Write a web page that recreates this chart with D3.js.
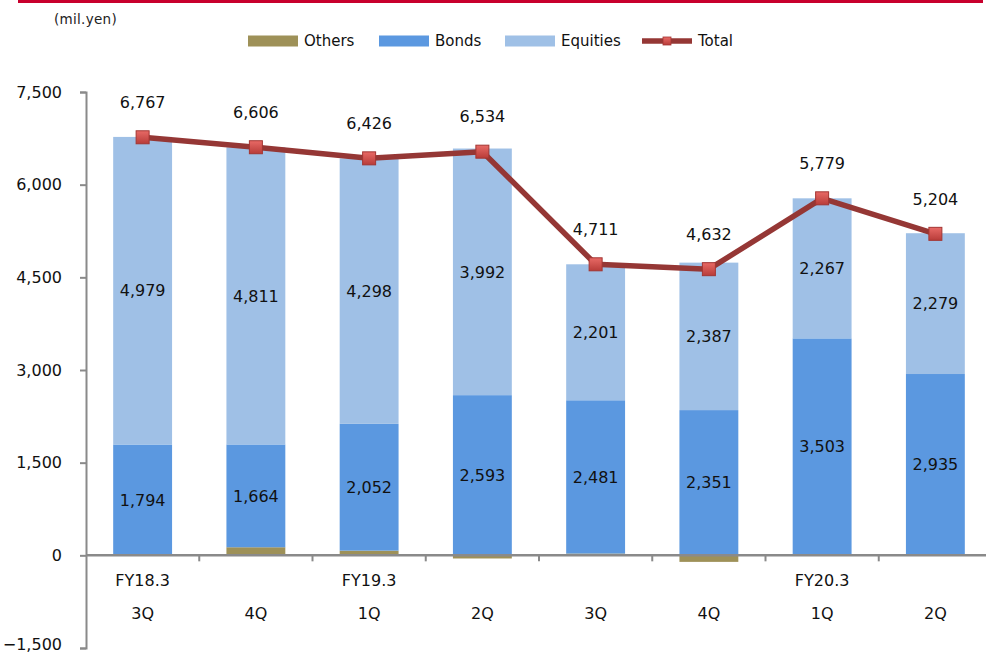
<!DOCTYPE html>
<html>
<head>
<meta charset="utf-8">
<script src="https://cdn.jsdelivr.net/npm/d3@7"></script>
<style>
  body { margin: 0; background: #fff; }
  svg { display: block; font-family: "DejaVu Sans", Verdana, sans-serif; }
</style>
</head>
<body>
<svg id="chart" width="986" height="654"></svg>
<script>
// data
const quarters = ["3Q", "4Q", "1Q", "2Q", "3Q", "4Q", "1Q", "2Q"];
const fyLabels = ["FY18.3", "", "FY19.3", "", "", "", "FY20.3", ""];
const bonds = [1794, 1664, 2052, 2593, 2481, 2351, 3503, 2935];
const equities = [4979, 4811, 4298, 3992, 2201, 2387, 2267, 2279];
const totals = [6767, 6606, 6426, 6534, 4711, 4632, 5779, 5204];
const others = totals.map((t, i) => t - bonds[i] - equities[i]);
const yTicks = [-1500, 0, 1500, 3000, 4500, 6000, 7500];
const seriesNames = ["Others", "Bonds", "Equities", "Total"];

const colors = {
  Others: "#9e9158",
  Bonds: "#5b98e0",
  Equities: "#9fc0e6",
  Total: "#953735",
};

const svg = d3.select("#chart"),
  plotLeft = 86,
  plotRight = 992, // plot area runs a bit past the picture's right edge
  plotTop = 92,
  plotBottom = 648;

const rows = quarters.map((q, i) => ({
  idx: i,
  Others: others[i],
  Bonds: bonds[i],
  Equities: equities[i],
}));

const x = d3
  .scaleBand()
  .domain(rows.map((d) => d.idx))
  .range([plotLeft, plotRight])
  .paddingInner(0.48)
  .paddingOuter(0.24);

const y = d3.scaleLinear().domain([-1500, 7500]).range([plotBottom, plotTop]);

// gradient for the total markers
const defs = svg.append("defs");
const grad = defs
  .append("linearGradient")
  .attr("id", "mk")
  .attr("x1", 0)
  .attr("y1", 0)
  .attr("x2", 0)
  .attr("y2", 1);
grad.append("stop").attr("offset", "0%").attr("stop-color", "#e86a66");
grad.append("stop").attr("offset", "100%").attr("stop-color", "#b83c39");

// red rule at the top
svg
  .append("line")
  .attr("x1", 18)
  .attr("x2", 983)
  .attr("y1", 1.5)
  .attr("y2", 1.5)
  .attr("stroke", "#c8002d")
  .attr("stroke-width", 3);

svg
  .append("text")
  .attr("x", 54)
  .attr("y", 24)
  .attr("font-size", 13.5)
  .attr("fill", "#222")
  .attr("letter-spacing", 0.3)
  .text("(mil.yen)");

// stacked bars
const stack = d3
  .stack()
  .keys(["Others", "Bonds", "Equities"])
  .offset(d3.stackOffsetDiverging);
const layers = stack(rows);

svg
  .append("g")
  .selectAll("g")
  .data(layers)
  .enter()
  .append("g")
  .attr("fill", (d) => colors[d.key])
  .selectAll("rect")
  .data((d) => d)
  .enter()
  .append("rect")
  .attr("x", (d) => x(d.data.idx))
  .attr("width", x.bandwidth())
  .attr("y", (d) => y(Math.max(d[0], d[1])))
  .attr("height", (d) => Math.abs(y(d[0]) - y(d[1])));

// segment labels for bonds and equities
layers
  .filter((l) => l.key != "Others")
  .forEach((l) => {
    svg
      .append("g")
      .selectAll("text")
      .data(l)
      .enter()
      .append("text")
      .attr("x", (d) => x(d.data.idx) + x.bandwidth() / 2)
      .attr("y", (d) => y((d[0] + d[1]) / 2))
      .attr("dy", "0.36em")
      .attr("text-anchor", "middle")
      .attr("font-size", 16)
      .attr("fill", "#111")
      .text((d) => d3.format(",")(d.data[l.key]));
  });

// axes
const axisColor = "#8a8a8a";
const yAxis = svg
  .append("g")
  .attr("transform", `translate(${plotLeft},0)`)
  .call(
    d3
      .axisLeft(y)
      .tickValues(yTicks)
      .tickSize(6)
      .tickPadding(18)
      .tickFormat(d3.format(","))
  );
yAxis.select(".domain").attr("stroke", axisColor).attr("stroke-width", 2);
yAxis.selectAll(".tick line").attr("stroke", axisColor).attr("stroke-width", 2);
yAxis
  .selectAll(".tick text")
  .attr("font-size", 16)
  .attr("fill", "#111")
  .attr("font-family", "DejaVu Sans, sans-serif");
// keep the bottom label inside the picture
yAxis
  .selectAll(".tick text")
  .filter((d) => d == -1500)
  .attr("dy", "0.1em");

const step = x.step();
const xAxis = svg.append("g");
xAxis
  .append("line")
  .attr("x1", plotLeft)
  .attr("x2", plotRight)
  .attr("y1", y(0))
  .attr("y2", y(0))
  .attr("stroke", axisColor)
  .attr("stroke-width", 2.5);
xAxis
  .selectAll("line.tk")
  .data(d3.range(1, quarters.length))
  .enter()
  .append("line")
  .attr("class", "tk")
  .attr("x1", (i) => plotLeft + i * step)
  .attr("x2", (i) => plotLeft + i * step)
  .attr("y1", y(0))
  .attr("y2", y(0) + 6)
  .attr("stroke", axisColor)
  .attr("stroke-width", 2);
xAxis
  .selectAll("text.fy")
  .data(rows)
  .enter()
  .append("text")
  .attr("class", "fy")
  .attr("x", (d) => x(d.idx) + x.bandwidth() / 2)
  .attr("y", 586)
  .attr("text-anchor", "middle")
  .attr("font-size", 16)
  .attr("fill", "#111")
  .text((d) => fyLabels[d.idx]);
xAxis
  .selectAll("text.q")
  .data(rows)
  .enter()
  .append("text")
  .attr("class", "q")
  .attr("x", (d) => x(d.idx) + x.bandwidth() / 2)
  .attr("y", 619)
  .attr("text-anchor", "middle")
  .attr("font-size", 16)
  .attr("fill", "#111")
  .text((d) => quarters[d.idx]);

// total line
const line = d3
  .line()
  .x((d, i) => x(i) + x.bandwidth() / 2)
  .y((d) => y(d));
svg
  .append("path")
  .datum(totals)
  .attr("d", line)
  .attr("fill", "none")
  .attr("stroke", colors.Total)
  .attr("stroke-width", 5.5)
  .attr("stroke-linejoin", "round");

const mk = 13;
svg
  .append("g")
  .selectAll("rect")
  .data(totals)
  .enter()
  .append("rect")
  .attr("x", (d, i) => x(i) + x.bandwidth() / 2 - mk / 2)
  .attr("y", (d) => y(d) - mk / 2)
  .attr("width", mk)
  .attr("height", mk)
  .attr("fill", "url(#mk)")
  .attr("stroke", "#a33532")
  .attr("stroke-width", 1);

svg
  .append("g")
  .selectAll("text")
  .data(totals)
  .enter()
  .append("text")
  .attr("x", (d, i) => x(i) + x.bandwidth() / 2)
  .attr("y", (d) => y(d) - 35)
  .attr("dy", "0.36em")
  .attr("text-anchor", "middle")
  .attr("font-size", 16)
  .attr("fill", "#111")
  .text((d) => d3.format(",")(d));

// legend
const legendX = [248, 379, 505, 642];
const legend = svg
  .append("g")
  .selectAll("g")
  .data(seriesNames)
  .enter()
  .append("g")
  .attr("transform", (d, i) => `translate(${legendX[i]},41)`);
legend
  .filter((d) => d != "Total")
  .append("rect")
  .attr("x", 0)
  .attr("y", -5.5)
  .attr("width", 50)
  .attr("height", 11)
  .attr("fill", (d) => colors[d]);
const lt = legend.filter((d) => d == "Total");
lt.append("line")
  .attr("x1", 0)
  .attr("x2", 50)
  .attr("y1", 0)
  .attr("y2", 0)
  .attr("stroke", colors.Total)
  .attr("stroke-width", 5.5);
lt.append("rect")
  .attr("x", 21)
  .attr("y", -4)
  .attr("width", 8)
  .attr("height", 8)
  .attr("fill", "url(#mk)")
  .attr("stroke", "#a33532")
  .attr("stroke-width", 0.8);
legend
  .append("text")
  .attr("x", 56)
  .attr("y", 0)
  .attr("dy", "0.35em")
  .attr("font-size", 15)
  .attr("fill", "#111")
  .text((d) => d);
</script>
</body>
</html>
